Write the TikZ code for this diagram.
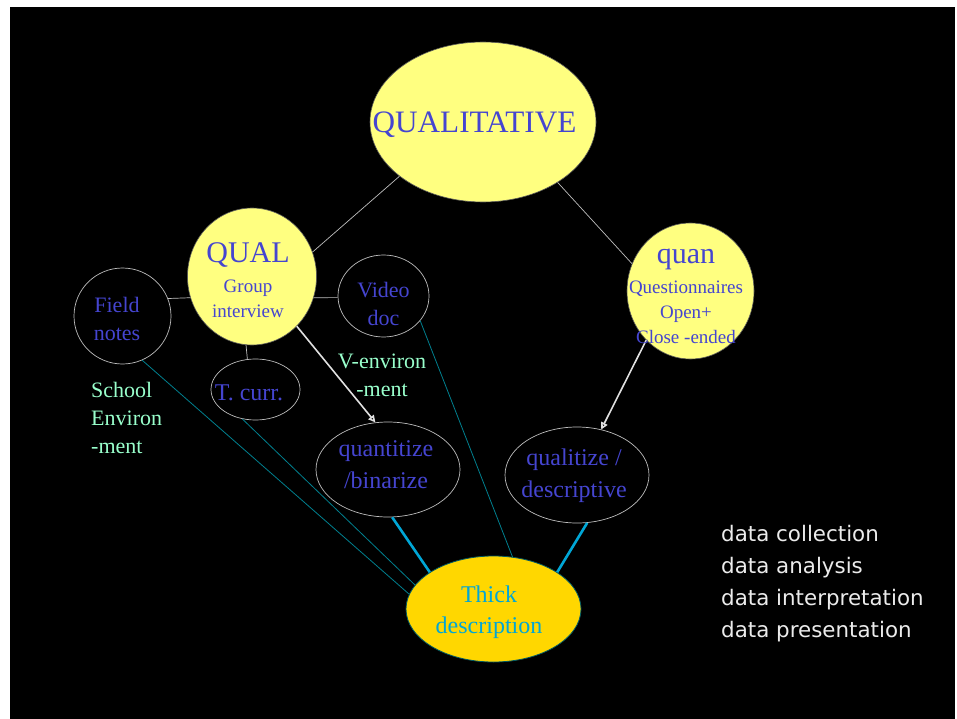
\documentclass[tikz,border=0pt]{standalone}
\usepackage{fontspec}
\setmainfont{Liberation Serif}
\newfontfamily\datafont{DejaVu Sans}
\usepackage{tikz}
\usetikzlibrary{arrows.meta}
\usetikzlibrary{shapes.geometric}
\usetikzlibrary{positioning}
\definecolor{qyellow}{HTML}{FFFF80}
\definecolor{qgold}{HTML}{FFD700}
\definecolor{qblue}{HTML}{4545D0}
\definecolor{qcyan}{HTML}{00A6D6}
\definecolor{qteal}{HTML}{00808F}
\definecolor{qmint}{HTML}{99FFCC}
\definecolor{qgray}{HTML}{BEBEBE}
\tikzset{
  % ellipses
  yellowell/.style={ellipse, draw=gray!70!black, line width=0.6pt, fill=qyellow, inner sep=0pt},
  darkell/.style={ellipse, draw=qgray, line width=0.7pt, inner sep=0pt},
  goldell/.style={ellipse, draw=qteal!70!black, line width=0.8pt, fill=qgold, inner sep=0pt},
  % texts (base = baseline of the last line)
  bluetext/.style={text=qblue, align=center, inner sep=0pt, anchor=base},
  minttext/.style={text=qmint, inner sep=0pt, anchor=base, font=\fontsize{22}{28}\selectfont},
  datatext/.style={text=white!92!black, align=left, inner sep=0pt, anchor=base west,
    font=\datafont\fontsize{21.4}{32}\selectfont},
  % connectors
  link/.style={draw=qgray, line width=0.7pt},
  thinlink/.style={draw=qteal, line width=0.8pt},
  thicklink/.style={draw=qcyan, line width=2.6pt},
  whitearrow/.style={draw=white!88!black, line width=1.6pt, -{Triangle[open, length=7pt, width=7pt]}}
}
\newcommand{\smallsize}{\fontsize{19}{25}\selectfont}
\begin{document}
\begin{tikzpicture}[x=1pt, y=-1pt]
  \useasboundingbox (0,0) rectangle (957,719);
  \fill[white] (0,0) rectangle (957,719);
  \fill[black] (10,7) rectangle (955,719);

  % ellipses
  \node[yellowell, minimum width=226, minimum height=160] (qualit) at (483,122) {};
  \node[yellowell, minimum width=129, minimum height=137] (qual) at (252,276.5) {};
  \node[yellowell, minimum width=127, minimum height=136] (quan) at (690.5,291) {};
  \node[darkell, minimum width=97, minimum height=96] (field) at (122.5,316) {};
  \node[darkell, minimum width=91, minimum height=82] (video) at (383.5,296) {};
  \node[darkell, minimum width=89, minimum height=61] (tcurr) at (255.5,389.5) {};
  \node[darkell, minimum width=144, minimum height=95] (quanti) at (388,469.5) {};
  \node[darkell, minimum width=144, minimum height=96] (qualiz) at (577,475) {};
  \node[goldell, minimum width=175, minimum height=106] (thick) at (493.5,609) {};

  % connectors
  \path[link] (qual.22) -- (qualit.-147);
  \path[link] (qualit.-39) -- (quan.155);
  \path[link] (field.21) -- (qual.199);
  \path[link] (qual.-19) -- (video.182);
  \path[link] (qual.-95) -- (tcurr.105);
  \path[whitearrow] (qual.-48) -- (quanti.105);
  \path[whitearrow] (quan.228) -- (qualiz.62);
  \path[thinlink] (field.-66) -- (thick.170);
  \path[thinlink] (tcurr.-114) -- (thick.163);
  \path[thinlink] (video.-34) -- (thick.70);
  \path[thicklink] (quanti.-85) -- (thick.150);
  \path[thicklink] (qualiz.-78) -- (thick.30);

  % labels
  \node[bluetext, font=\fontsize{31.2}{34}\selectfont] (qualit-t) at (474.5,133) {QUALITATIVE};
  \node[bluetext, font=\smallsize] (qual-t) at (248,317)
    {{\fontsize{30}{30}\selectfont QUAL}\\[5pt]Group\\interview};
  \node[bluetext, font=\smallsize] (quan-t) at (686,343)
    {{\fontsize{30}{30}\selectfont quan}\\[5pt]Questionnaires\\Open+\\Close -ended};
  \node[bluetext, font=\fontsize{22}{28}\selectfont] (field-t) at (117,340) {Field\\notes};
  \node[bluetext, font=\fontsize{22}{28}\selectfont] (video-t) at (383.5,325) {Video\\doc};
  \node[bluetext, font=\fontsize{24}{28}\selectfont] (tcurr-t) at (249,400) {T. curr.};
  \node[bluetext, font=\fontsize{24}{32}\selectfont] (quanti-t) at (386,488) {quantitize\\/binarize};
  \node[bluetext, font=\fontsize{24}{32}\selectfont] (qualiz-t) at (574,497) {qualitize /\\descriptive};
  \node[bluetext, text=qcyan, font=\fontsize{24}{31}\selectfont] (thick-t) at (489,633) {Thick\\description};

  \node[minttext, align=left, anchor=base west] (school-t) at (91,453) {School\\Environ\\-ment};
  \node[minttext, align=center] (venv-t) at (382,396) {V-environ\\-ment};

  \node[datatext] (data-t) at (721,637)
    {data collection\\data analysis\\data interpretation\\data presentation};
\end{tikzpicture}
\end{document}
